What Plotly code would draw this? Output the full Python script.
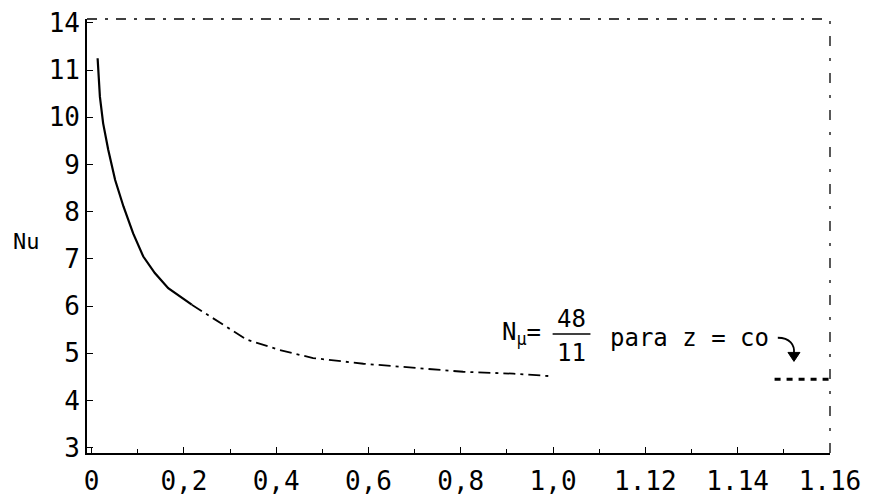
import plotly.graph_objects as go

# Curve (z, Nu)
z_vals = [0.013, 0.018, 0.025, 0.036, 0.051, 0.069, 0.090, 0.112, 0.137, 0.166,
          0.217, 0.253, 0.336, 0.408, 0.480, 0.589, 0.697, 0.805, 0.914, 0.990]
nu_vals = [11.25, 10.43, 9.87, 9.31, 8.67, 8.11, 7.54, 7.05, 6.70, 6.38,
           6.03, 5.81, 5.29, 5.07, 4.90, 4.78, 4.70, 4.61, 4.57, 4.52]
split = 10  # first part drawn solid, remainder broken

# Asymptote segment (Nu = 48/11 for z = infinity), as drawn
asym_z = [1.48, 1.60]
asym_nu = [4.45, 4.45]

# Tick labels as printed
x_tickvals = [0, 0.2, 0.4, 0.6, 0.8, 1.0, 1.2, 1.4, 1.6]
x_ticktext = ["0", "0,2", "0,4", "0,6", "0,8", "1,0", "1.12", "1.14", "1.16"]
y_tickvals = [3, 4, 5, 6, 7, 8, 9, 10, 11, 12]
y_ticktext = ["3", "4", "5", "6", "7", "8", "9", "10", "11", "14"]

FONT = "DejaVu Sans Mono, Liberation Mono, monospace"

fig = go.Figure()
fig.add_trace(go.Scatter(x=z_vals[:split + 1], y=nu_vals[:split + 1], mode="lines",
                         line=dict(color="black", width=2.2), showlegend=False))
fig.add_trace(go.Scatter(x=z_vals[split:], y=nu_vals[split:], mode="lines",
                         line=dict(color="black", width=1.8, dash="12px,5px,3px,5px"),
                         showlegend=False))
fig.add_trace(go.Scatter(x=asym_z, y=asym_nu, mode="lines",
                         line=dict(color="black", width=3, dash="6px,6px"),
                         showlegend=False))

# broken top and right frame
fig.add_shape(type="line", xref="paper", yref="paper", x0=0, x1=1, y0=1, y1=1,
              line=dict(color="black", width=1.3, dash="10px,8px,3px,8px"))
fig.add_shape(type="line", xref="paper", yref="paper", x0=1, x1=1, y0=0, y1=1,
              line=dict(color="black", width=1.3, dash="10px,12px,3px,12px"))

# fraction bar of 48/11
fig.add_shape(type="line", xref="x", yref="y", x0=0.999, x1=1.081, y0=5.41, y1=5.41,
              line=dict(color="black", width=1.5))
# curved arrow from "co" to the asymptote
fig.add_shape(type="path", xref="x", yref="y",
              path="M 1.487,5.33 C 1.513,5.33 1.524,5.18 1.522,5.0",
              line=dict(color="black", width=1.8))
fig.add_shape(type="path", xref="x", yref="y",
              path="M 1.509,5.02 L 1.535,5.02 L 1.522,4.83 Z",
              fillcolor="black", line=dict(color="black", width=1))

fig.add_annotation(x=0.978, y=5.41, xref="x", yref="y", xanchor="right", yanchor="middle",
                   text="N<sub>μ</sub>=", showarrow=False,
                   font=dict(family=FONT, size=24, color="black"))
fig.add_annotation(x=1.040, y=5.73, xref="x", yref="y", xanchor="center", yanchor="middle",
                   text="48", showarrow=False, font=dict(family=FONT, size=24, color="black"))
fig.add_annotation(x=1.040, y=5.01, xref="x", yref="y", xanchor="center", yanchor="middle",
                   text="11", showarrow=False, font=dict(family=FONT, size=24, color="black"))
fig.add_annotation(x=1.120, y=5.33, xref="x", yref="y", xanchor="left", yanchor="middle",
                   text="para z = co", showarrow=False,
                   font=dict(family=FONT, size=24, color="black"))
fig.add_annotation(x=-0.081, y=0.488, xref="paper", yref="paper", xanchor="center",
                   yanchor="middle", text="Nu", showarrow=False,
                   font=dict(family=FONT, size=22, color="black"))

fig.update_xaxes(range=[-0.01, 1.6001], tickvals=x_tickvals, ticktext=x_ticktext,
                 automargin=False, ticklabeloverflow="allow",
                 showgrid=False, zeroline=False, showline=True, linecolor="black",
                 linewidth=1.6, ticks="inside", ticklen=6, tickcolor="black",
                 ticklabelstandoff=4,
                 minor=dict(dtick=0.1, ticks="inside", ticklen=4, tickcolor="black"),
                 tickfont=dict(family=FONT, size=26, color="black"))
fig.update_yaxes(range=[2.89, 12.08], tickvals=y_tickvals, ticktext=y_ticktext,
                 automargin=False, ticklabeloverflow="allow",
                 showgrid=False, zeroline=False, showline=True, linecolor="black",
                 linewidth=1.6, ticks="inside", ticklen=6, tickcolor="black",
                 ticklabelstandoff=0,
                 tickfont=dict(family=FONT, size=26, color="black"))
# the page adds an 8px body margin, so the figure is 8px smaller and shifted
fig.update_layout(width=873, height=491, margin=dict(l=79, r=51, t=11, b=46),
                  paper_bgcolor="white", plot_bgcolor="white")

fig.write_html("out.html")
